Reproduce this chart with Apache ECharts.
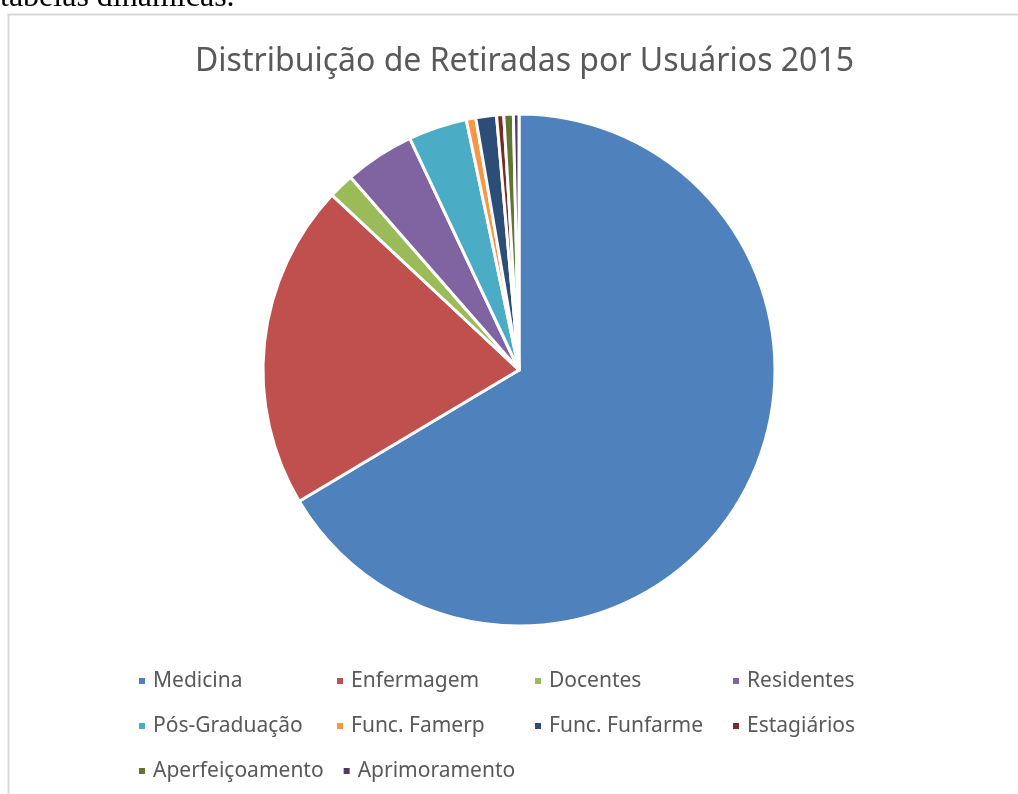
<!DOCTYPE html>
<html>
<head>
<meta charset="utf-8">
<script src="https://cdn.jsdelivr.net/npm/echarts@6/dist/echarts.min.js"></script>
<style>
  html, body { margin: 0; padding: 0; background: #fff; }
  #chart { width: 1018px; height: 794px; }
</style>
</head>
<body>
<div id="chart"></div>
<script>
// categorias e valores (%)
var categorias = ['Medicina', 'Enfermagem', 'Docentes', 'Residentes', 'Pós-Graduação',
                  'Func. Famerp', 'Func. Funfarme', 'Estagiários', 'Aperfeiçoamento', 'Aprimoramento'];
var valores = [66.3, 20.5, 1.6, 4.4, 3.7, 0.6, 1.3, 0.45, 0.6, 0.35];
var cores = ['#4F81BD', '#C0504D', '#9BBB59', '#8064A2', '#4BACC6',
             '#F79646', '#2C4D75', '#772C2A', '#5F7530', '#4D3B62'];
// linhas da legenda
var linhasLegenda = [categorias.slice(0, 4), categorias.slice(4, 8), categorias.slice(8)];

var myChart = echarts.init(document.getElementById('chart'));

var dados = categorias.map(function(c, i) {
    return { name: c, value: valores[i] };
});

var legendas = linhasLegenda.map(function(linha, i) {
    return {
        data: linha,
        left: 137,
        top: 670 + i * 45,
        padding: 0,
        orient: 'horizontal',
        icon: 'rect',
        itemWidth: 8,
        itemHeight: 8,
        itemGap: 18,
        textStyle: {
            fontFamily: 'Noto Sans',
            fontSize: 21,
            color: '#595959',
            width: 164,
            padding: [0, 0, 0, 2],
            lineHeight: 22
        }
    };
});

var option = {
    backgroundColor: '#fff',
    animation: false,
    color: cores,
    title: {
        text: 'Distribuição de Retiradas por Usuários 2015',
        left: 190,
        top: 41,
        textStyle: {
            fontFamily: 'Noto Sans',
            fontWeight: 'normal',
            fontSize: 32,
            color: '#595959'
        }
    },
    legend: legendas,
    graphic: [{
        type: 'rect',
        shape: { x: 8.5, y: 14.5, width: 1100, height: 900 },
        style: { fill: 'none', stroke: '#d9d9d9', lineWidth: 2 },
        silent: true
    }, {
        type: 'text',
        left: 0,
        top: -18,
        style: {
            text: 'tabelas dinâmicas.',
            font: '32px "Liberation Serif"',
            fill: '#000'
        },
        silent: true
    }],
    series: [{
        type: 'pie',
        center: [519, 370],
        radius: 256,
        startAngle: 90,
        clockwise: true,
        data: dados,
        label: { show: false },
        labelLine: { show: false },
        itemStyle: { borderColor: '#fff', borderWidth: 3 },
        emphasis: { disabled: true }
    }]
};
myChart.setOption(option);
</script>
</body>
</html>
